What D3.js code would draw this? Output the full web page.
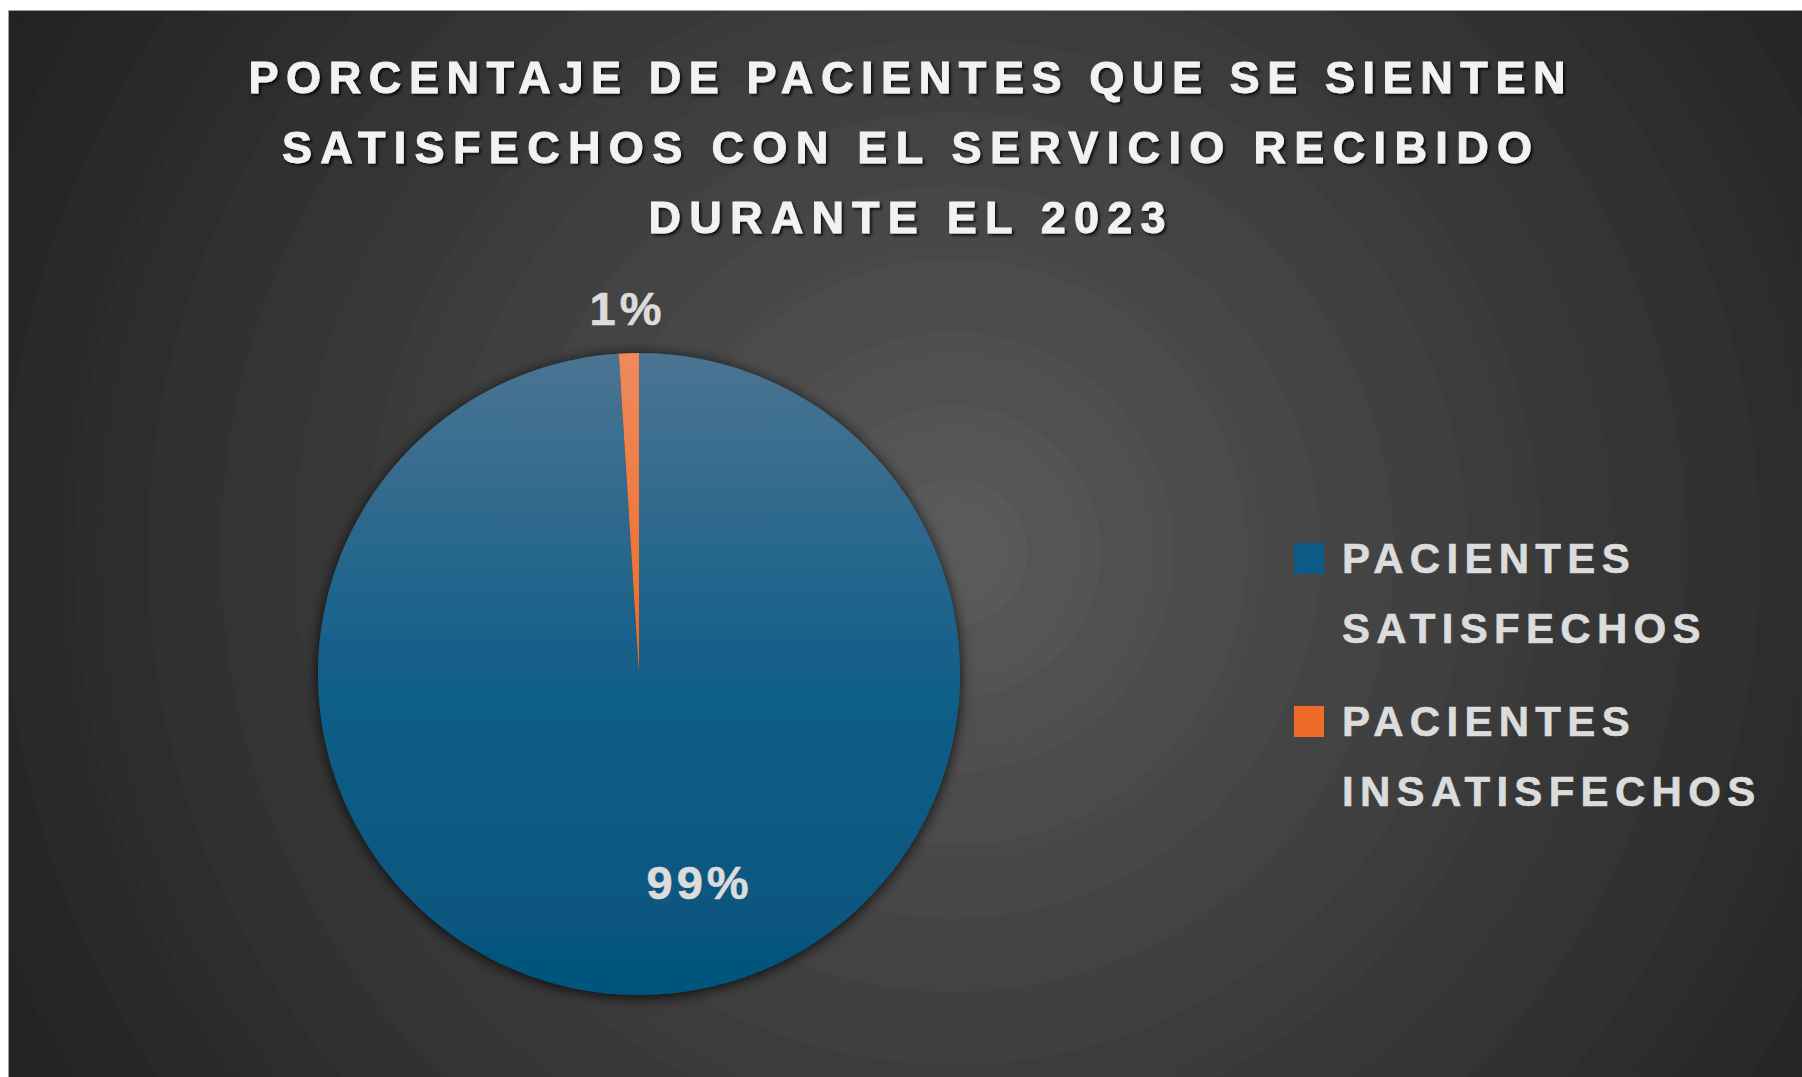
<!doctype html>
<html lang="es">
<head>
<meta charset="UTF-8">
<title>Pacientes satisfechos 2023</title>
<style>
  html, body { margin: 0; padding: 0; background: #fff; }
  svg { display: block; }
  text { font-family: "Liberation Sans", Arial, sans-serif; font-weight: bold; }
</style>
</head>
<body>
<svg width="1802" height="1077"></svg>
<script src="https://cdn.jsdelivr.net/npm/d3@7/dist/d3.min.js"></script>
<script>
// data
var categories = ['PACIENTES SATISFECHOS', 'PACIENTES INSATISFECHOS'];
var values = [99, 1];
var legendLines = [['PACIENTES', 'SATISFECHOS'], ['PACIENTES', 'INSATISFECHOS']];
var titleLines = [
    'PORCENTAJE DE PACIENTES QUE SE SIENTEN',
    'SATISFECHOS CON EL SERVICIO RECIBIDO',
    'DURANTE EL 2023'
];

var svg = d3.select('svg'),
    W = +svg.attr('width'),
    H = +svg.attr('height');

var defs = svg.append('defs');

// background: radial with soft visible bands
var bg = defs.append('radialGradient')
    .attr('id', 'bg')
    .attr('gradientUnits', 'userSpaceOnUse')
    .attr('cx', 954).attr('cy', 552).attr('r', 1100);
var bgColor = d3.interpolateRgb('#5a5a5a', '#1f1f1f');
var bands = 15;
for (var i = 0; i < bands; i++) {
    var c0 = bgColor(Math.pow(i / bands, 0.9)),
        c1 = d3.interpolateRgb(c0, bgColor(Math.pow((i + 1) / bands, 0.9)))(0.3);
    bg.append('stop').attr('offset', i / bands).attr('stop-color', c0);
    bg.append('stop').attr('offset', (i + 1) / bands - 0.0005).attr('stop-color', c1);
}

// slice fills
var blueGrad = defs.append('linearGradient').attr('id', 'gBlue');
blueGrad.append('stop').attr('offset', 0).attr('stop-color', '#4b7492');
blueGrad.append('stop').attr('offset', 0.5).attr('stop-color', '#125f89');
blueGrad.append('stop').attr('offset', 1).attr('stop-color', '#04547c');

var orangeGrad = defs.append('linearGradient').attr('id', 'gOrange');
orangeGrad.append('stop').attr('offset', 0).attr('stop-color', '#ef8a5c');
orangeGrad.append('stop').attr('offset', 1).attr('stop-color', '#ee6a24');

var shadow = defs.append('filter').attr('id', 'pieShadow')
    .attr('x', '-20%').attr('y', '-20%').attr('width', '140%').attr('height', '140%');
shadow.append('feDropShadow').attr('dx', 0).attr('dy', 2).attr('stdDeviation', 7)
    .attr('flood-color', '#000').attr('flood-opacity', 0.85);

var textShadow = defs.append('filter').attr('id', 'txtShadow')
    .attr('x', '-5%').attr('y', '-30%').attr('width', '110%').attr('height', '160%');
textShadow.append('feDropShadow').attr('dx', 2).attr('dy', 2).attr('stdDeviation', 1.5)
    .attr('flood-color', '#000').attr('flood-opacity', 0.8);

// chart area
svg.append('rect')
    .attr('x', 8.5).attr('y', 10.5)
    .attr('width', W).attr('height', H)
    .attr('fill', 'url(#bg)')
    .attr('stroke', '#9d9d9d').attr('stroke-width', 1);

// title
var titleWidths = [1317, 1250, 517];
svg.append('g').attr('filter', 'url(#txtShadow)')
    .selectAll('text')
    .data(titleLines)
    .enter().append('text')
    .attr('x', 907)
    .attr('y', function(d, i) { return 93 + i * 70; })
    .attr('text-anchor', 'middle')
    .attr('font-size', '45px')
    .attr('textLength', function(d, i) { return titleWidths[i]; })
    .attr('lengthAdjust', 'spacing')
    .attr('fill', '#f2f2f2')
    .attr('stroke', '#f2f2f2')
    .attr('stroke-width', 0.9)
    .text(function(d) { return d; });

// pie
var cx = 639, cy = 674, radius = 321;
var color = d3.scaleOrdinal().domain(categories).range(['url(#gBlue)', 'url(#gOrange)']);
var data = categories.map(function(c, i) { return { name: c, value: values[i] }; });
var total = d3.sum(values);

var pie = d3.pie().sort(null).value(function(d) { return d.value; });
var arc = d3.arc().innerRadius(0).outerRadius(radius);

// gradients span the whole pie height
blueGrad.attr('gradientUnits', 'userSpaceOnUse').attr('x1', 0).attr('x2', 0)
    .attr('y1', -radius).attr('y2', radius);
orangeGrad.attr('gradientUnits', 'userSpaceOnUse').attr('x1', 0).attr('x2', 0)
    .attr('y1', -radius).attr('y2', 0);

var g = svg.append('g').attr('transform', 'translate(' + cx + ',' + cy + ')');
var slices = g.append('g').attr('filter', 'url(#pieShadow)');

slices.selectAll('path')
    .data(pie(data))
    .enter().append('path')
    .attr('d', arc)
    .attr('fill', function(d) { return color(d.data.name); });

// data labels
var labelRadius = [0.65 * radius, radius + 45];
var labelShift = [54, 0];
g.selectAll('.lbl')
    .data(pie(data))
    .enter().append('text')
    .attr('class', 'lbl')
    .attr('transform', function(d, i) {
        var p = d3.arc().innerRadius(labelRadius[i]).outerRadius(labelRadius[i]).centroid(d);
        return 'translate(' + (p[0] + labelShift[i]) + ',' + p[1] + ')';
    })
    .attr('text-anchor', 'middle')
    .attr('dominant-baseline', 'central')
    .attr('font-size', '47px')
    .attr('letter-spacing', '4px')
    .attr('fill', '#dcdcdc')
    .attr('stroke', '#dcdcdc')
    .attr('stroke-width', 0.6)
    .text(function(d) { return Math.round(d.data.value / total * 100) + '%'; });

// legend
var legend = svg.append('g').attr('transform', 'translate(1294,543)');
var item = legend.selectAll('.item')
    .data(categories)
    .enter().append('g')
    .attr('class', 'item')
    .attr('transform', function(d, i) { return 'translate(0,' + i * 163 + ')'; });

item.append('rect')
    .attr('width', 30).attr('height', 31)
    .attr('fill', function(d, i) { return i === 0 ? '#0d5a86' : '#ef6c28'; });

item.each(function(d, i) {
    d3.select(this).selectAll('text')
        .data(legendLines[i])
        .enter().append('text')
        .attr('x', 48)
        .attr('y', function(t, j) { return 30 + j * 70; })
        .attr('font-size', '42px')
        .attr('letter-spacing', '6.3px')
        .attr('fill', '#dcdcdc')
        .attr('stroke', '#dcdcdc')
        .attr('stroke-width', 0.6)
        .text(function(t) { return t; });
});
</script>
</body>
</html>
